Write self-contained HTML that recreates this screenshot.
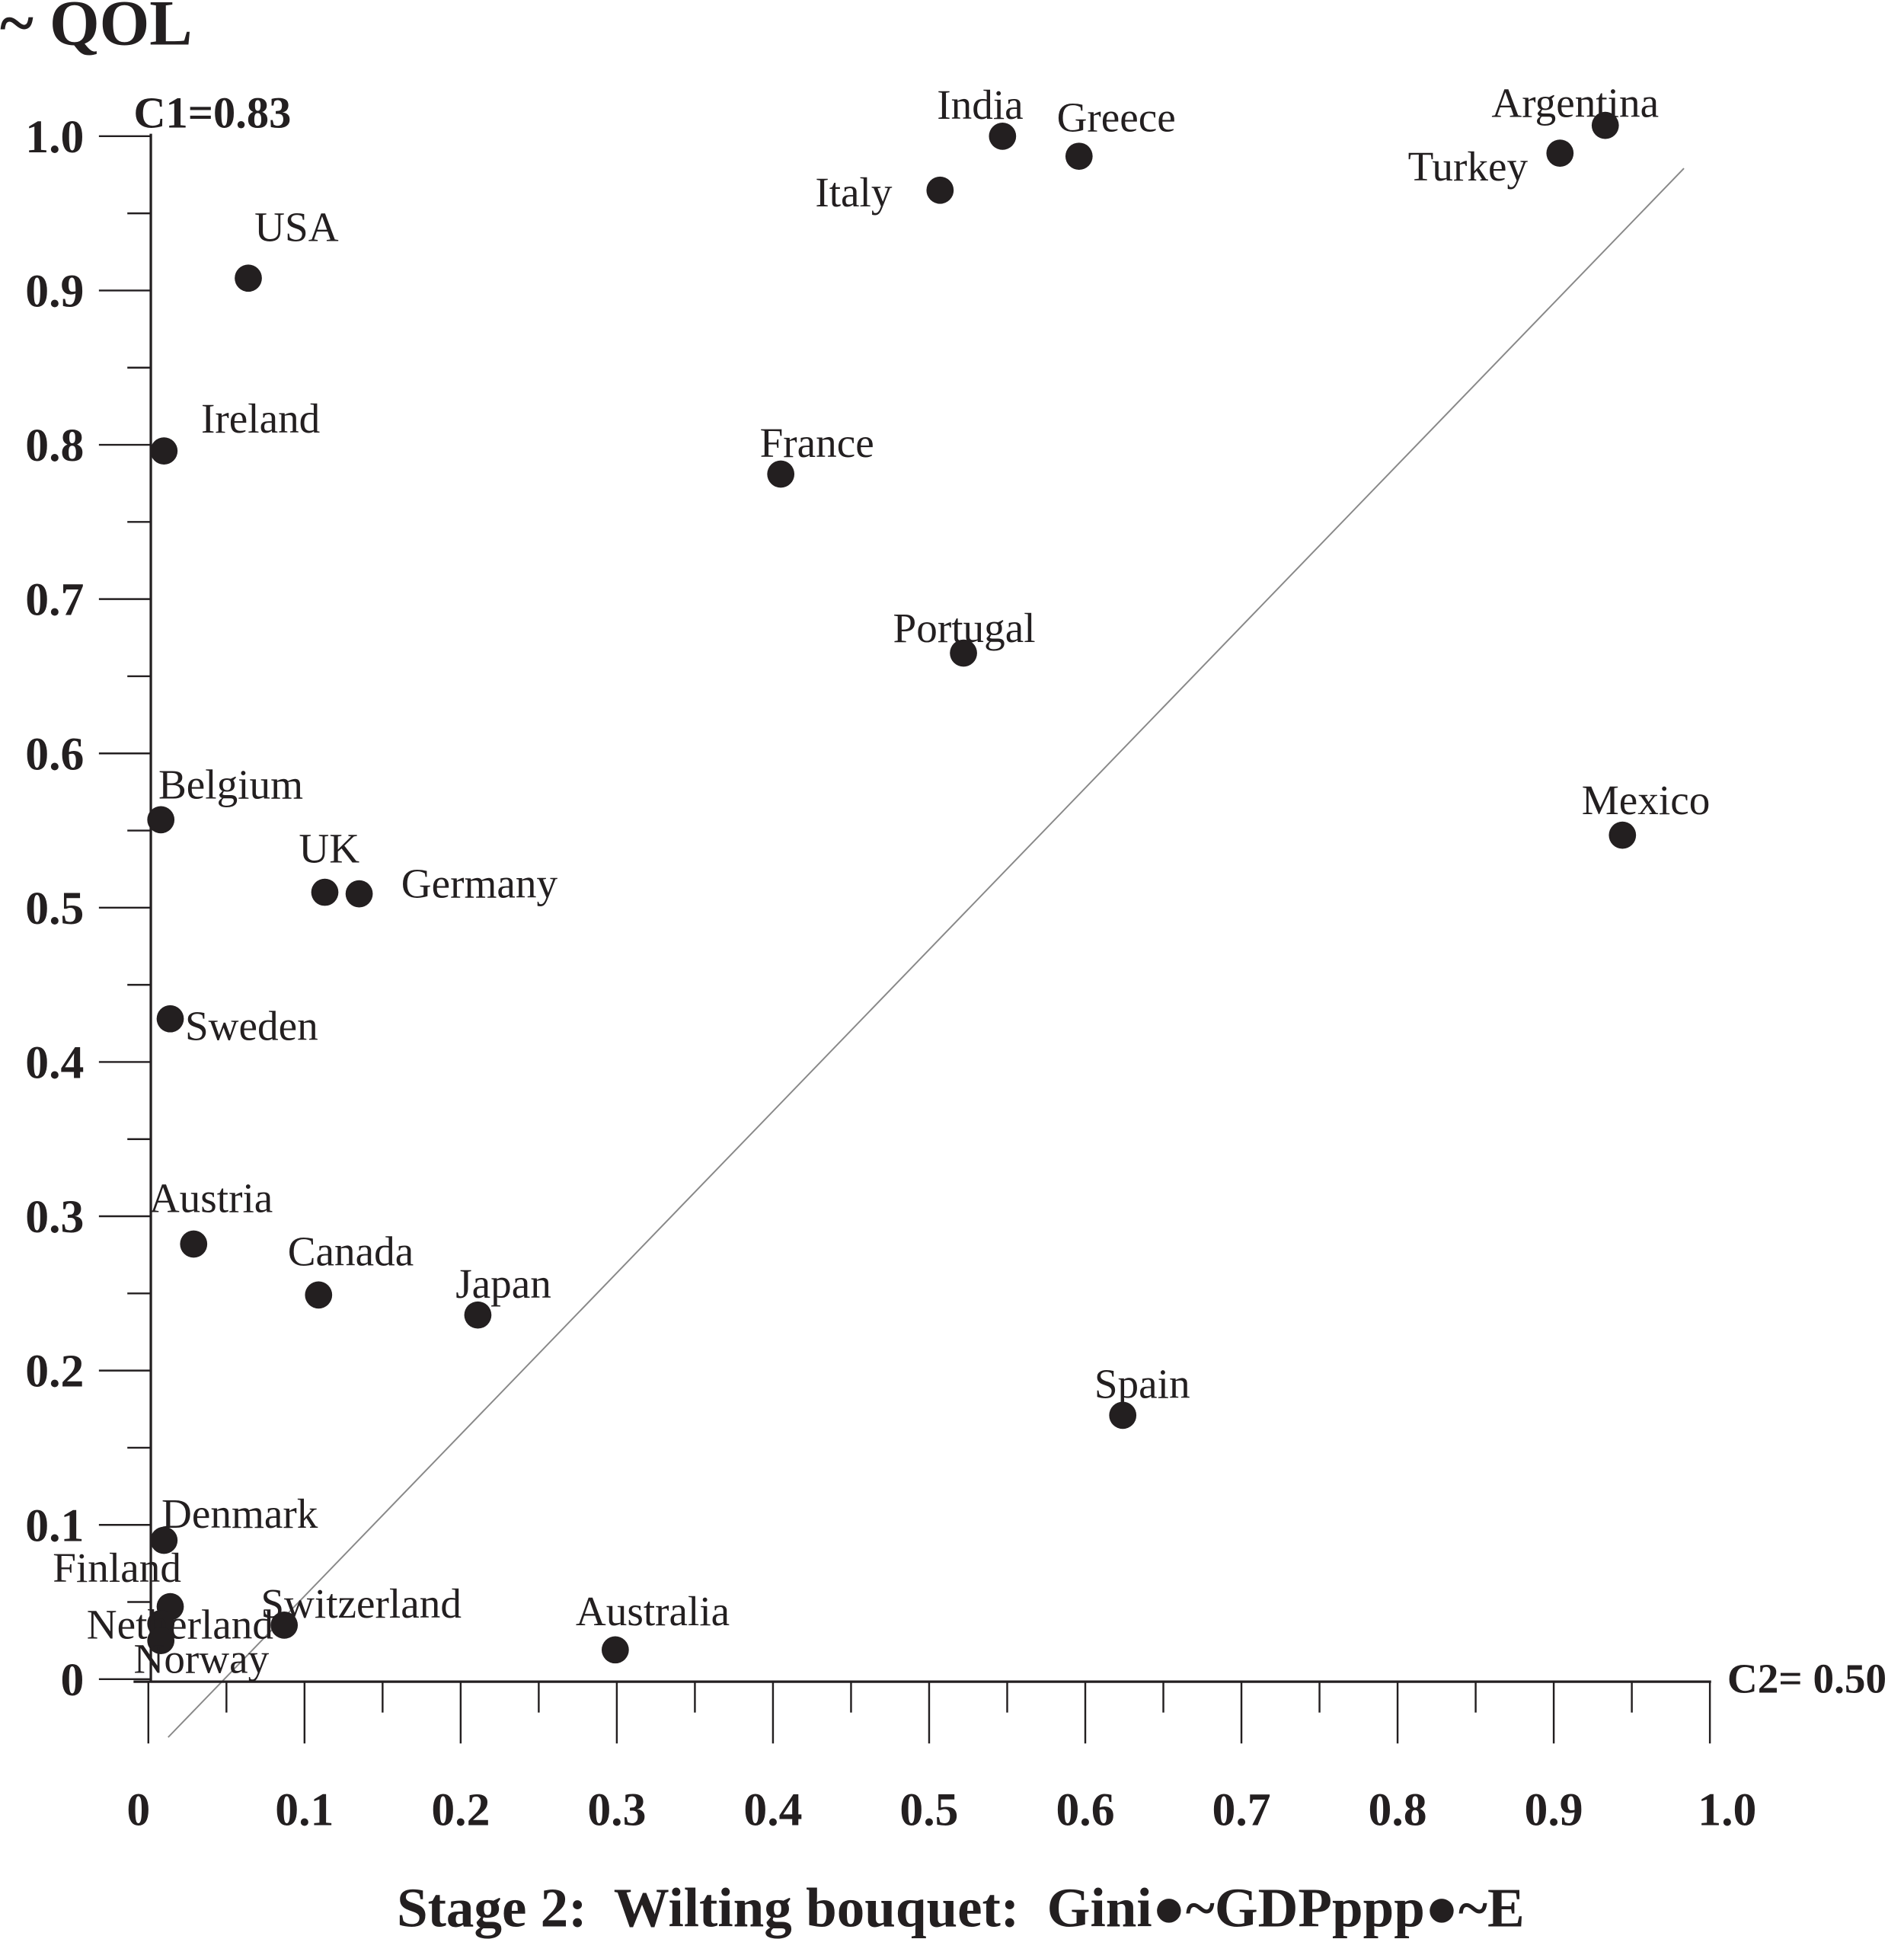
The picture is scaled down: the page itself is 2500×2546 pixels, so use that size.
<!DOCTYPE html>
<html><head><meta charset="utf-8"><style>
html,body{margin:0;padding:0;background:#fff}
svg{display:block}
text{font-family:"Liberation Serif",serif;fill:#231f20;white-space:pre}
.b{font-weight:bold}
</style></head><body>
<svg id="chart" width="2500" height="2546" viewBox="0 0 1540 1568" xmlns="http://www.w3.org/2000/svg" xml:space="preserve">
<text class="b" x="0" y="36" font-size="52">~ QOL</text>
<text class="b" x="108" y="103" font-size="36">C1=0.83</text>
<text class="b" x="1397" y="1369" font-size="34">C2= 0.50</text>
<text class="b" x="777" y="1558" font-size="45" text-anchor="middle">Stage 2:  Wilting bouquet:  Gini●~GDPppp●~E</text>
<line x1="136" y1="1405" x2="1362" y2="136" stroke="#888" stroke-width="1.2"/>
<g id="axes"></g>
<g id="points"></g>
</svg>
<script>
const countries=["USA","Ireland","Belgium","UK","Germany","Sweden","Austria","Canada","Japan","Denmark","Finland","Netherland","Norway","Switzerland","Australia","Spain","Mexico","Portugal","France","Italy","India","Greece","Turkey","Argentina"];
const xValues=[0.064,0.010,0.008,0.113,0.135,0.014,0.029,0.109,0.211,0.010,0.014,0.008,0.008,0.087,0.299,0.624,0.944,0.522,0.405,0.507,0.547,0.596,0.904,0.933];
const yValues=[0.908,0.796,0.557,0.510,0.509,0.428,0.282,0.249,0.236,0.090,0.047,0.036,0.025,0.035,0.019,0.171,0.547,0.665,0.781,0.965,1.000,0.987,0.989,1.007];
const yTickLabels=["0","0.1","0.2","0.3","0.4","0.5","0.6","0.7","0.8","0.9","1.0"];
const xTickLabels=["0","0.1","0.2","0.3","0.4","0.5","0.6","0.7","0.8","0.9","1.0"];
const labelDx=[5,30,-2,-21,34,12,-36,-25,-18,-2,-95,-60,-22,-19,-32,-23,-33,-57,-17,-101,-53,-18,-123,-92];
const labelDy=[-30,-15,-17,-24,3,17,-26,-24,-14,-10,-20,12,26,-6,-20,-14,-17,-9,-14,13,-14,-20,22,-7];
const X0=120,X1=1383,Y0=1358,Y1=110;
const xs=v=>X0+v*(X1-X0);
const ys=v=>Y0-v*(Y0-Y1);
const NS="http://www.w3.org/2000/svg";
function mk(tag,attrs,parent){const e=document.createElementNS(NS,tag);for(const k in attrs)e.setAttribute(k,attrs[k]);parent.appendChild(e);return e;}
const ax=document.getElementById('axes');
let l=mk('line',{x1:122,y1:108,x2:122,y2:1360,stroke:'#231f20','stroke-width':2},ax);


l=mk('line',{x1:108,y1:1360,x2:1384,y2:1360,stroke:'#231f20','stroke-width':2},ax);


for(let i=0;i<=20;i++){
  const v=i/20, major=i%2===0, y=ys(v);
  l=mk('line',{x1:major?80:103,y1:y,x2:122,y2:y,stroke:'#231f20','stroke-width':1.5},ax);
  
  
  const x=xs(v);
  l=mk('line',{x1:x,y1:1360,x2:x,y2:major?1410:1385,stroke:'#231f20','stroke-width':1.5},ax);
  
  
}
yTickLabels.forEach((t,i)=>{
  const tx=mk('text',{x:68,y:ys(i/10)+13,'font-size':38,'text-anchor':'end',class:'b'},ax);
  tx.textContent=t;
  
  
});
xTickLabels.forEach((t,i)=>{
  const tx=mk('text',{x:xs(i/10)+(i===0?-8:i===10?14:0),y:1476,'font-size':38,'text-anchor':'middle',class:'b'},ax);
  tx.textContent=t;
  
  
});
const pg=document.getElementById('points');
countries.forEach((c,i)=>{
  const cx=xs(xValues[i]),cy=ys(yValues[i]);
  const p=mk('circle',{cx:cx,cy:cy,r:11,fill:'#231f20'},pg);
  
  
  const t=mk('text',{x:cx+labelDx[i],y:cy+labelDy[i],'font-size':34},pg);
  t.textContent=c;
  
  
});
</script>
</body></html>
